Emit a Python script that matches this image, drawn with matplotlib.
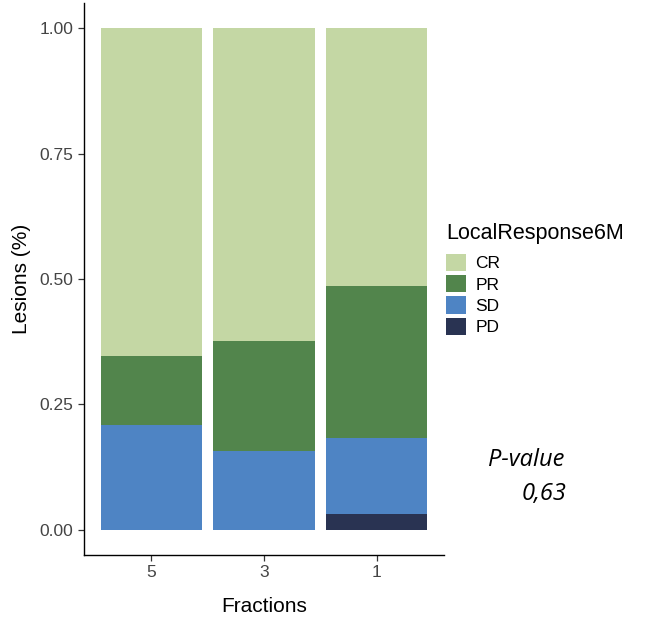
import matplotlib.pyplot as plt
from matplotlib.patches import Patch
import numpy as np

# data (stacked proportions per fraction group)
fractions = ["5", "3", "1"]
responses = ["CR", "PR", "SD", "PD"]
pd_vals = [0.0, 0.0, 0.032]
sd_vals = [0.209, 0.157, 0.151]
pr_vals = [0.138, 0.219, 0.303]
cr_vals = [0.653, 0.624, 0.514]
colors = {"CR": "#C4D7A4", "PR": "#52854C", "SD": "#4E84C4", "PD": "#293352"}

plt.rcParams["font.family"] = ["Liberation Sans", "DejaVu Sans"]

fig = plt.figure(figsize=(6.64, 6.21), dpi=100)
ax = fig.add_axes([0.1265, 0.1063, 0.5422, 0.8889])

x = np.arange(len(fractions))
bottom = np.zeros(len(fractions))
# stack from the bottom: PD, SD, PR, CR
for name, vals in [("PD", pd_vals), ("SD", sd_vals), ("PR", pr_vals), ("CR", cr_vals)]:
    ax.bar(x, vals, width=0.9, bottom=bottom, color=colors[name], linewidth=0)
    bottom += np.array(vals)

ax.set_xlim(-0.6, 2.6)
ax.set_ylim(-0.05, 1.05)
ax.set_xticks(x)
ax.set_xticklabels(fractions)
ax.set_yticks([0, 0.25, 0.5, 0.75, 1.0])
ax.set_yticklabels(["0.00", "0.25", "0.50", "0.75", "1.00"])
ax.tick_params(labelsize=12.5, labelcolor="#444444", length=4.5, width=0.9,
               color="#333333", pad=3)
for side in ["top", "right"]:
    ax.spines[side].set_visible(False)
for side in ["left", "bottom"]:
    ax.spines[side].set_linewidth(1.0)
ax.set_xlabel("Fractions", fontsize=15, labelpad=12)
ax.set_ylabel("Lesions (%)", fontsize=15, labelpad=6)

handles = [Patch(facecolor=colors[r], edgecolor="none") for r in responses]
leg = fig.legend(handles, responses, title="LocalResponse6M", loc="upper left",
                 bbox_to_anchor=(0.661, 0.652), frameon=False, fontsize=12.5,
                 title_fontsize=15.5, handlelength=1.15, handleheight=1.15,
                 labelspacing=0.22, handletextpad=0.55, borderaxespad=0)
leg._legend_box.align = "left"
leg._legend_box.sep = 7  # a bit more room under the title

fig.text(0.735, 0.26, "P-value", fontsize=17, style="italic",
         family=["Open Sans", "DejaVu Sans"], ha="left", va="center")
fig.text(0.786, 0.205, "0,63", fontsize=17, style="italic",
         family=["Open Sans", "DejaVu Sans"], ha="left", va="center")

fig.savefig("out.png", dpi=100)
